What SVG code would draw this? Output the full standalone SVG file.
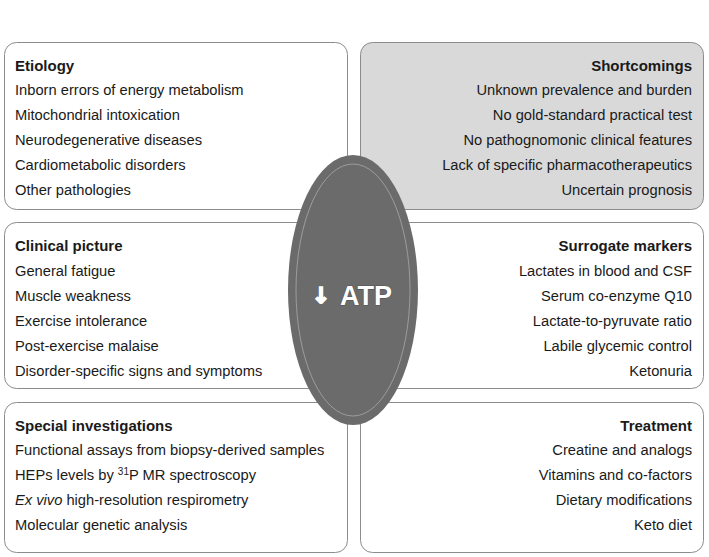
<svg xmlns="http://www.w3.org/2000/svg" width="709" height="557" viewBox="0 0 709 557">
<style>
.box{fill:#fff;stroke:#8c8c8c;stroke-width:1}
.gray{fill:#d9d9d9}
text{font-family:"Liberation Sans",Arial,sans-serif;font-size:14.7px;fill:#1a1a1a}
.h{font-weight:bold;font-size:15px}
.r{text-anchor:end}
.atp{font-size:27px;font-weight:bold;fill:#fff;stroke:#555;stroke-width:1.2;paint-order:stroke}
.arr{font-family:"DejaVu Sans",sans-serif;font-size:22px;font-weight:bold;fill:#fff;stroke:#fff;stroke-width:1.6}
</style>
<rect width="709" height="557" fill="#fff"/>
<g id="etiology">
<rect class="box" x="4.5" y="42.5" width="343" height="167" rx="12"/>
<text x="15" y="71" class="h">Etiology</text>
<text x="15" y="95">Inborn errors of energy metabolism</text>
<text x="15" y="120">Mitochondrial intoxication</text>
<text x="15" y="145">Neurodegenerative diseases</text>
<text x="15" y="170">Cardiometabolic disorders</text>
<text x="15" y="195">Other pathologies</text>
</g>
<g id="shortcomings">
<rect class="box gray" x="360.5" y="42.5" width="343" height="167" rx="12"/>
<text x="692" y="71" class="h r">Shortcomings</text>
<text x="692" y="95" class="r">Unknown prevalence and burden</text>
<text x="692" y="120" class="r">No gold-standard practical test</text>
<text x="692" y="145" class="r">No pathognomonic clinical features</text>
<text x="692" y="170" class="r">Lack of specific pharmacotherapeutics</text>
<text x="692" y="195" class="r">Uncertain prognosis</text>
</g>
<g id="clinical">
<rect class="box" x="4.5" y="222.5" width="343" height="166" rx="12"/>
<text x="15" y="251" class="h">Clinical picture</text>
<text x="15" y="276">General fatigue</text>
<text x="15" y="301">Muscle weakness</text>
<text x="15" y="326">Exercise intolerance</text>
<text x="15" y="351">Post-exercise malaise</text>
<text x="15" y="376">Disorder-specific signs and symptoms</text>
</g>
<g id="surrogate">
<rect class="box" x="360.5" y="222.5" width="343" height="166" rx="12"/>
<text x="692" y="251" class="h r">Surrogate markers</text>
<text x="692" y="276" class="r">Lactates in blood and CSF</text>
<text x="692" y="301" class="r">Serum co-enzyme Q10</text>
<text x="692" y="326" class="r">Lactate-to-pyruvate ratio</text>
<text x="692" y="351" class="r">Labile glycemic control</text>
<text x="692" y="376" class="r">Ketonuria</text>
</g>
<g id="special">
<rect class="box" x="4.5" y="402.5" width="343" height="150" rx="12"/>
<text x="15" y="431" class="h">Special investigations</text>
<text x="15" y="455">Functional assays from biopsy-derived samples</text>
<text x="15" y="480">HEPs levels by <tspan font-size="10" dy="-5">31</tspan><tspan dy="5">P MR spectroscopy</tspan></text>
<text x="15" y="505"><tspan font-style="italic">Ex vivo</tspan> high-resolution respirometry</text>
<text x="15" y="530">Molecular genetic analysis</text>
</g>
<g id="treatment">
<rect class="box" x="360.5" y="402.5" width="343" height="150" rx="12"/>
<text x="692" y="431" class="h r">Treatment</text>
<text x="692" y="455" class="r">Creatine and analogs</text>
<text x="692" y="480" class="r">Vitamins and co-factors</text>
<text x="692" y="505" class="r">Dietary modifications</text>
<text x="692" y="530" class="r">Keto diet</text>
</g>
<g id="atp">
<ellipse cx="353" cy="290" rx="65" ry="135" fill="#6b6b6b"/>
<ellipse cx="353" cy="290" rx="57" ry="126" fill="none" stroke="#a8a8a8" stroke-width="0.8"/>
<text x="321" y="303" text-anchor="middle" class="arr">↓</text>
<text x="366" y="305" text-anchor="middle" class="atp">ATP</text>
</g>
<g id="connectors"/>
</svg>
